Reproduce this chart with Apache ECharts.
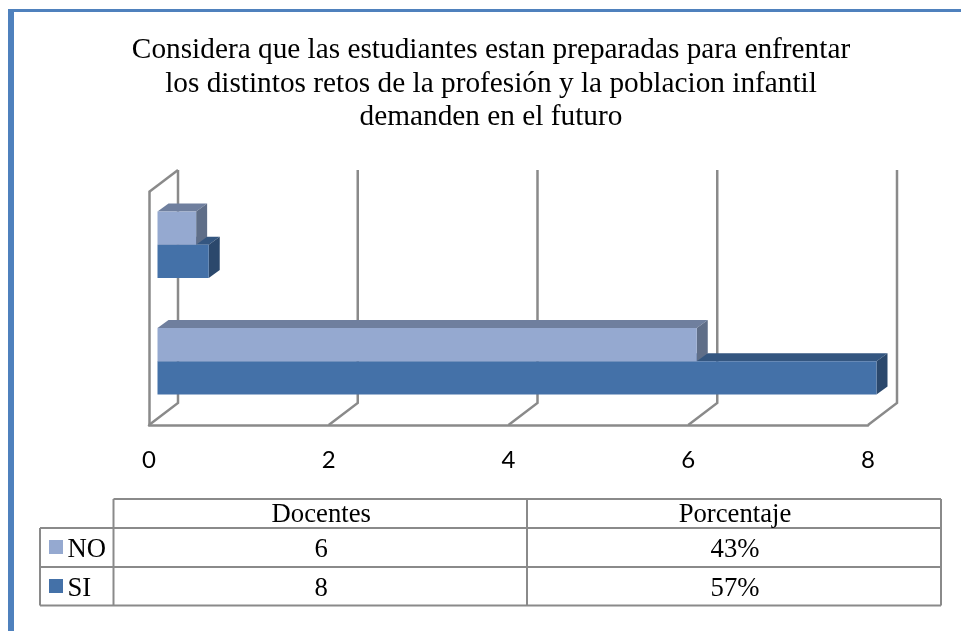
<!DOCTYPE html>
<html>
<head>
<meta charset="utf-8">
<style>html,body{margin:0;padding:0;background:#fff}#c{width:961px;height:631px}</style>
<script src="https://cdn.jsdelivr.net/npm/echarts@6/dist/echarts.min.js"></script>
</head>
<body>
<div id="c"></div>
<script>
var titleText = 'Considera que las estudiantes estan preparadas para enfrentar\nlos distintos retos de la profesión y la poblacion infantil\ndemanden en el futuro';
var categories = ['Docentes', 'Porcentaje'];
var noValues = [6, 0.43];
var siValues = [8, 0.57];
var tickValues = [0, 2, 4, 6, 8];
var tableHeader = ['Docentes', 'Porcentaje'];
var tableNo = ['6', '43%'];
var tableSi = ['8', '57%'];

var GRID = '#8a8a8a';
var NO_C = {front: '#95a9d0', top: '#6f7f9e', side: '#5f6e88'};
var SI_C = {front: '#4471a8', top: '#345680', side: '#2b486c'};

var chart = echarts.init(document.getElementById('c'), null, {renderer: 'canvas'});

function wallItem(params, api) {
  var cs = params.coordSys;
  var x = api.coord([api.value(0), 0])[0];
  var yb = cs.y + cs.height, yt = cs.y;
  var dx = 29, dy = -22;
  var children = [{
    type: 'polyline',
    shape: {points: [[x, yb], [x + dx, yb + dy], [x + dx, yt + dy]]},
    style: {stroke: GRID, lineWidth: 2.5, fill: null}
  }];
  if (api.value(0) === 0) {
    children.push({
      type: 'line',
      shape: {x1: x, y1: yt, x2: x + dx, y2: yt + dy},
      style: {stroke: GRID, lineWidth: 2.5}
    });
  }
  return {type: 'group', children: children};
}

function barItem(colors, sign) {
  return function (params, api) {
    var p0 = api.coord([0, api.value(1)]);
    var p1 = api.coord([api.value(0), api.value(1)]);
    var h = api.size([0, 1])[1] * 0.286;
    var ox = 8.5, oy = -5.5, dx = 11, dy = -8;
    var xl = p0[0] + ox, xr = p1[0] + ox;
    var yc = p0[1] + oy;
    var yt = sign < 0 ? yc - h : yc;
    var yb = yt + h;
    return {type: 'group', children: [
      {type: 'polygon', shape: {points: [[xl, yt], [xl + dx, yt + dy], [xr + dx, yt + dy], [xr, yt]]},
        style: {fill: colors.top}},
      {type: 'polygon', shape: {points: [[xr, yt], [xr + dx, yt + dy], [xr + dx, yb + dy], [xr, yb]]},
        style: {fill: colors.side}},
      {type: 'rect', shape: {x: xl, y: yt, width: xr - xl, height: h},
        style: {fill: colors.front}}
    ]};
  };
}

function toPairs(arr) { return arr.map(function (v, i) { return [v, i]; }); }

// Data table
var tbl = {x0: 40, x1: 113.5, x2: 527, x3: 941, y0: 499, y1: 528, y2: 567, y3: 605.5};
var gfx = [
  {type: 'rect', z: 5, shape: {x: 8, y: 9, width: 953, height: 3}, style: {fill: '#4f81bd'}},
  {type: 'rect', z: 5, shape: {x: 8, y: 9, width: 6, height: 622}, style: {fill: '#4f81bd'}}
];
function hline(x1, x2, y) { gfx.push({type: 'line', z: 5, shape: {x1: x1, y1: y, x2: x2, y2: y}, style: {stroke: GRID, lineWidth: 2}}); }
function vline(x, y1, y2) { gfx.push({type: 'line', z: 5, shape: {x1: x, y1: y1, x2: x, y2: y2}, style: {stroke: GRID, lineWidth: 2}}); }
function cell(str, x, y, align) {
  gfx.push({type: 'text', z: 6, x: x, y: y, style: {text: str, fill: '#000', font: '26.7px "Liberation Serif"', textAlign: align || 'center', textVerticalAlign: 'middle'}});
}
hline(tbl.x1, tbl.x3, tbl.y0);
hline(tbl.x0, tbl.x3, tbl.y1);
hline(tbl.x0, tbl.x3, tbl.y2);
hline(tbl.x0, tbl.x3, tbl.y3);
vline(tbl.x0, tbl.y1, tbl.y3);
vline(tbl.x1, tbl.y0, tbl.y3);
vline(tbl.x2, tbl.y0, tbl.y3);
vline(tbl.x3, tbl.y0, tbl.y3);
var cx = [(tbl.x1 + tbl.x2) / 2 + 1, (tbl.x2 + tbl.x3) / 2 + 1];
tableHeader.forEach(function (t, i) { cell(t, cx[i], 515); });
tableNo.forEach(function (t, i) { cell(t, cx[i], 550); });
tableSi.forEach(function (t, i) { cell(t, cx[i], 589); });
gfx.push({type: 'rect', z: 6, shape: {x: 49, y: 540, width: 14, height: 14}, style: {fill: NO_C.front}});
gfx.push({type: 'rect', z: 6, shape: {x: 49, y: 579, width: 14, height: 14}, style: {fill: SI_C.front}});
cell('NO', 67.5, 550, 'left');
cell('SI', 67.5, 589, 'left');

chart.setOption({
  animation: false,
  backgroundColor: '#fff',
  title: {
    text: titleText,
    left: 486, top: 29, textAlign: 'center',
    textStyle: {fontFamily: '"Liberation Serif"', fontSize: 29.3, fontWeight: 'normal', color: '#000', lineHeight: 33.5}
  },
  grid: {left: 149, right: 93, top: 192, bottom: 206, containLabel: false},
  xAxis: {
    type: 'value', min: 0, max: 8, interval: 2,
    splitLine: {show: false},
    axisTick: {show: false},
    axisLine: {show: true, onZero: false, lineStyle: {color: GRID, width: 2.5}},
    axisLabel: {margin: 23, fontFamily: 'Lato', fontSize: 24, color: '#000'}
  },
  yAxis: {
    type: 'category', data: categories,
    axisTick: {show: false},
    axisLabel: {show: false},
    axisLine: {show: true, lineStyle: {color: GRID, width: 2.5}}
  },
  series: [
    {type: 'custom', name: 'walls', silent: true, clip: false, z: 1,
      encode: {x: 0}, data: tickValues.map(function (v) { return [v]; }), renderItem: wallItem},
    {type: 'custom', name: 'SI', clip: false, z: 2,
      encode: {x: 0, y: 1}, data: toPairs(siValues), renderItem: barItem(SI_C, 1)},
    {type: 'custom', name: 'NO', clip: false, z: 3,
      encode: {x: 0, y: 1}, data: toPairs(noValues), renderItem: barItem(NO_C, -1)}
  ],
  graphic: {elements: gfx}
});
</script>
</body>
</html>
